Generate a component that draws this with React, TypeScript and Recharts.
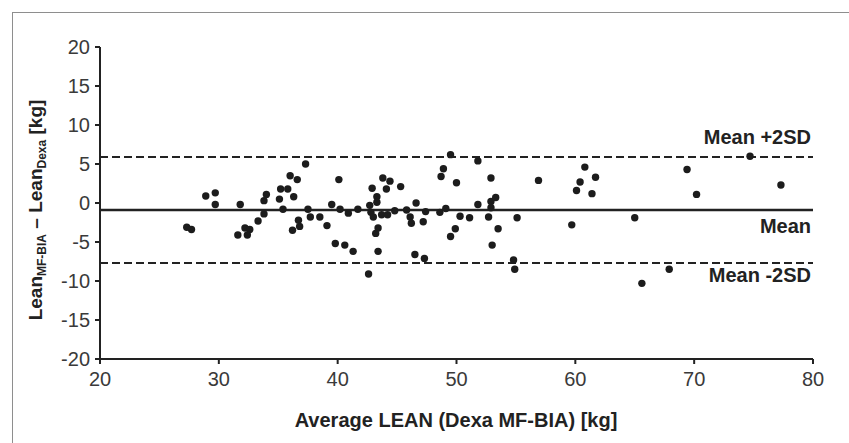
import React from "react"
import {
  ScatterChart, Scatter, XAxis, YAxis, ReferenceLine,
} from "recharts"

// average of the two methods (x) and their difference (y)
const leanAvg = [
  27.3, 27.7, 28.9, 29.7, 29.7, 31.8, 31.6, 32.2, 32.6, 32.4,
  33.3, 33.8, 33.8, 34.0, 35.1, 35.2, 35.8, 36.0, 36.6, 36.3,
  35.4, 37.3, 36.7, 36.2, 36.8, 37.5, 37.7, 38.5, 39.1, 39.5,
  40.1, 40.2, 39.8, 40.6, 40.9, 41.3, 41.7, 42.6, 42.7, 42.9,
  42.8, 43.0, 43.3, 43.3, 43.8, 44.4, 44.1, 43.7, 44.2, 43.2,
  43.4, 43.4, 44.8, 45.3, 45.8, 46.1, 46.2, 46.6, 47.2, 47.4,
  46.5, 47.3, 49.5, 48.9, 48.7, 50.0, 48.6, 49.1, 50.3, 51.1,
  49.9, 49.5, 51.8, 52.9, 51.8, 52.9, 53.3, 52.9, 52.7, 53.5,
  53.0, 55.1, 54.8, 54.9, 56.9, 59.7, 60.8, 61.7, 60.4, 60.1,
  61.4, 65.0, 65.6, 67.9, 69.4, 70.2, 74.7, 77.3,
]
const leanDiff = [
  -3.1, -3.4, 0.9, 1.3, -0.2, -0.2, -4.1, -3.2, -3.4, -4.1,
  -2.3, -1.4, 0.3, 1.1, 0.5, 1.8, 1.8, 3.5, 3.0, 0.8,
  -0.8, 5.0, -2.2, -3.5, -3.0, -0.8, -1.8, -1.8, -2.9, -0.2,
  3.0, -0.8, -5.2, -5.4, -1.3, -6.2, -0.8, -9.1, -0.3, 1.9,
  -1.2, -1.8, 0.8, 0.1, 3.2, 2.8, 1.8, -1.5, -1.5, -3.9,
  -3.2, -6.2, -1.0, 2.1, -0.9, -1.8, -2.6, 0.0, -2.4, -1.1,
  -6.6, -7.1, 6.2, 4.4, 3.4, 2.6, -1.2, -0.7, -1.7, -1.9,
  -3.3, -4.3, 5.4, 3.2, -0.2, 0.2, 0.7, -0.6, -1.8, -3.3,
  -5.4, -1.9, -7.3, -8.5, 2.9, -2.8, 4.6, 3.3, 2.7, 1.6,
  1.2, -1.9, -10.3, -8.5, 4.3, 1.1, 6.0, 2.3,
]

const meanDiff = -0.9
const upperLimit = 5.9
const lowerLimit = -7.7

const xTicks = [20, 30, 40, 50, 60, 70, 80]
const yTicks = [-20, -15, -10, -5, 0, 5, 10, 15, 20]

const points = leanAvg.map((x, i) => ({ x, y: leanDiff[i] }))

const FONT = "'Liberation Sans', Arial, Helvetica, sans-serif"

function Dot(props: { cx?: number; cy?: number }) {
  if (props.cx == null || props.cy == null) return null
  return <circle cx={props.cx} cy={props.cy} r={3.7} fill="#1c1c1c" />
}

function LineLabel({ viewBox, text, dy }: { viewBox?: any; text: string; dy: number }) {
  if (!viewBox) return null
  return (
    <text
      x={viewBox.x + viewBox.width - 2}
      y={viewBox.y + dy}
      textAnchor="end"
      fontFamily={FONT}
      fontSize={20}
      fontWeight={700}
      fill="#222"
    >
      {text}
    </text>
  )
}

export default function App() {
  const tick = { fontFamily: FONT, fontSize: 20, fill: "#3a3a3a" }
  const axisLine = { stroke: "#222", strokeWidth: 2 }

  return (
    <div style={{ position: "absolute", left: 0, top: 0, width: 849, height: 443, background: "white", overflow: "hidden" }}>
      <div style={{
        position: "absolute", left: 12, top: 12, right: -4, bottom: -4,
        borderTop: "1.5px solid #8e8e8e", borderLeft: "1.5px solid #8e8e8e",
      }} />
      <ScatterChart
        width={849}
        height={443}
        margin={{ top: 47, right: 36, left: 40, bottom: 54 }}
        style={{ position: "absolute", left: 0, top: 0 }}
      >
        <XAxis
          type="number"
          dataKey="x"
          domain={[20, 80]}
          ticks={xTicks}
          height={30}
          tick={tick}
          tickSize={5}
          tickMargin={8}
          axisLine={axisLine}
          tickLine={axisLine}
        />
        <YAxis
          type="number"
          dataKey="y"
          domain={[-20, 20]}
          ticks={yTicks}
          width={60}
          tick={tick}
          tickSize={5}
          tickMargin={5}
          axisLine={axisLine}
          tickLine={axisLine}
        />
        <ReferenceLine
          y={upperLimit}
          stroke="#222"
          strokeWidth={2}
          strokeDasharray="8 4"
          label={(p: any) => <LineLabel viewBox={p.viewBox} text="Mean +2SD" dy={-13} />}
        />
        <ReferenceLine
          y={meanDiff}
          stroke="#222"
          strokeWidth={2.5}
          label={(p: any) => <LineLabel viewBox={p.viewBox} text="Mean" dy={23} />}
        />
        <ReferenceLine
          y={lowerLimit}
          stroke="#222"
          strokeWidth={2}
          strokeDasharray="8 4"
          label={(p: any) => <LineLabel viewBox={p.viewBox} text="Mean -2SD" dy={19} />}
        />
        <Scatter data={points} shape={<Dot />} isAnimationActive={false} />
      </ScatterChart>
      <svg width={849} height={443} style={{ position: "absolute", left: 0, top: 0, pointerEvents: "none" }}>
        <text
          x={456}
          y={427}
          textAnchor="middle"
          fontFamily={FONT}
          fontSize={20}
          fontWeight={700}
          fill="#222"
        >
          Average LEAN (Dexa MF-BIA) [kg]
        </text>
        <text
          transform="translate(35,210) rotate(-90)"
          x={0}
          y={7}
          textAnchor="middle"
          fontFamily={FONT}
          fontSize={19}
          fontWeight={700}
          fill="#222"
        >
          Lean<tspan fontSize={12} dy={4}>MF-BIA</tspan>
          <tspan dy={-4}> – Lean</tspan>
          <tspan fontSize={12} dy={4}>Dexa</tspan>
          <tspan dy={-4}> [kg]</tspan>
        </text>
      </svg>
    </div>
  )
}
